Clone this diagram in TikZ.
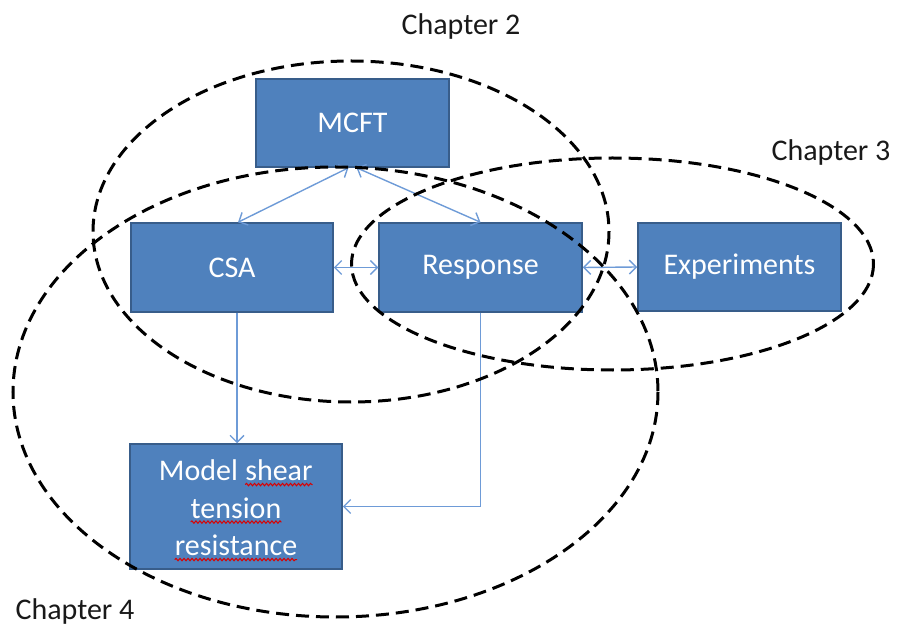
\documentclass[tikz,border=0pt]{standalone}
\usepackage{fontspec}
\setmainfont{Carlito}
\usetikzlibrary{arrows.meta,decorations.pathmorphing,calc}
\definecolor{boxfill}{RGB}{79,129,189}
\definecolor{boxline}{RGB}{56,93,138}
\definecolor{arrowblue}{RGB}{110,155,215}
\definecolor{labeltext}{RGB}{25,25,25}
\newcommand{\squig}[1]{\tikz[baseline=(t.base)]{\node[inner sep=0pt,outer sep=0pt,minimum width=0pt,minimum height=0pt,draw=none,fill=none,text=white](t){#1};\draw[red!85!black,line width=1pt,decorate,decoration={snake,amplitude=1.2pt,segment length=4pt}] ([yshift=-4pt]t.base west)--([yshift=-4pt]t.base east);}}
\tikzset{
  blockbox/.style={draw=boxline,line width=1.5pt,fill=boxfill,text=white,inner sep=0pt,align=center,font=\fontsize{30}{37.5}\selectfont},
  boxtext/.style={text=white,inner sep=0pt,align=center,font=\fontsize{30}{37.5}\selectfont},
  chaplabel/.style={text=labeltext,inner sep=0pt,font=\fontsize{30}{36}\selectfont},
  conn/.style={draw=arrowblue,line width=1.4pt},
  tip/.style={arrows={-Straight Barb[length=7pt,width=14pt,line width=1.4pt]}},
  tips/.style={arrows={Straight Barb[length=7pt,width=14pt,line width=1.4pt]-Straight Barb[length=7pt,width=14pt,line width=1.4pt]}},
  chapring/.style={draw=black,line width=3pt,dash pattern=on 13pt off 7pt}
}
\begin{document}
\begin{tikzpicture}[x=1pt,y=-1pt]
\useasboundingbox (0,0) rectangle (897,628);
% boxes
\node[blockbox,minimum width=193pt,minimum height=88pt] (mcft) at (352.5,123) {MCFT};
\node[blockbox,minimum width=202pt,minimum height=89pt] (csa) at (232,267.5) {CSA};
\node[blockbox,minimum width=203pt,minimum height=89pt] (resp) at (480.5,267.5) {Response};
\node[blockbox,minimum width=203pt,minimum height=88pt] (exp) at (739.5,267) {Experiments};
\node[blockbox,minimum width=212pt,minimum height=125pt] (model) at (236,506.5) {};
\node[boxtext] (modeltext) at ([yshift=-4pt]model.center) {Model \squig{shear}\\\squig{tension}\\\squig{resistance}};
% connectors
\draw[conn,tips] ([xshift=-4pt]mcft.south) -- ([xshift=6pt]csa.north);
\draw[conn,tips] ([xshift=4pt]mcft.south) -- (resp.north);
\draw[conn,tips] (csa.east) -- (resp.west);
\draw[conn,tips] (resp.east) -- (exp.west);
\draw[conn,tip] ([xshift=5pt]csa.south) -- ([xshift=1pt]model.north);
\draw[conn,tip] (resp.south) |- (model.east);
% chapter ellipses
\draw[chapring] (351,231.5) ellipse [x radius=258, y radius=170.5];
\draw[chapring] (612.5,264) ellipse [x radius=261, y radius=106];
\draw[chapring] (335.5,392) ellipse [x radius=322.5, y radius=225];
% labels
\node[chaplabel] (c2) at (461,27) {Chapter 2};
\node[chaplabel] (c3) at (831,153) {Chapter 3};
\node[chaplabel] (c4) at (75,611) {Chapter 4};
\end{tikzpicture}
\end{document}
